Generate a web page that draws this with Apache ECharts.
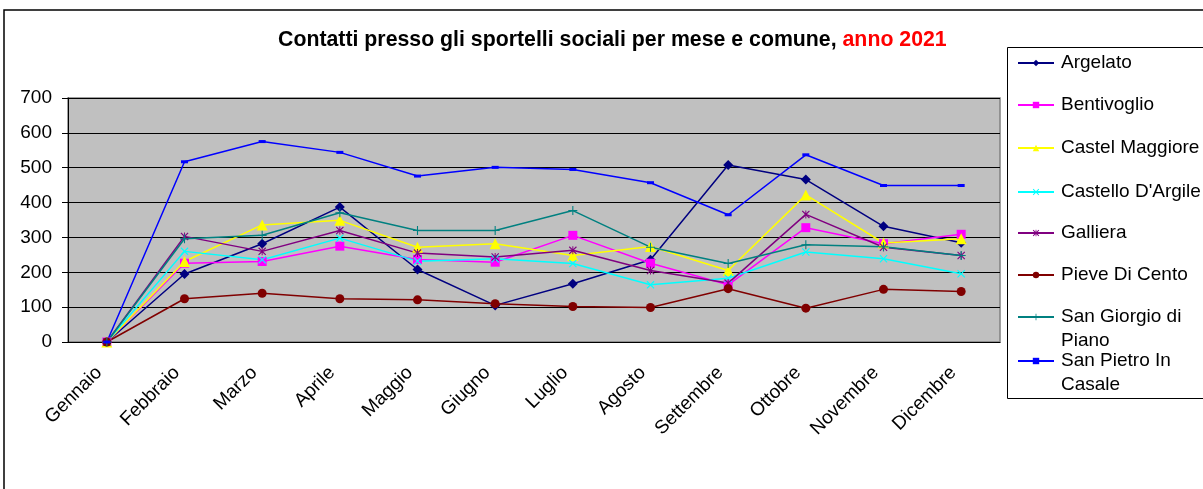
<!DOCTYPE html>
<html>
<head>
<meta charset="utf-8">
<script src="https://cdn.jsdelivr.net/npm/echarts@6/dist/echarts.min.js"></script>
<style>
  html, body { margin: 0; padding: 0; background: #fff; }
  #chart { width: 1203px; height: 489px; }
</style>
</head>
<body>
<div id="chart"></div>
<script>
// mesi
const months = ['Gennaio', 'Febbraio', 'Marzo', 'Aprile', 'Maggio', 'Giugno', 'Luglio', 'Agosto', 'Settembre', 'Ottobre', 'Novembre', 'Dicembre']
const yTicks = [0, 100, 200, 300, 400, 500, 600, 700]

// contatti per comune
const argelato = [0, 195, 282, 387, 208, 105, 167, 236, 508, 466, 332, 285]
const bentivoglio = [0, 226, 231, 275, 237, 229, 306, 226, 164, 328, 282, 309]
const castelMaggiore = [0, 231, 336, 349, 272, 282, 248, 274, 205, 422, 284, 296]
const castelloArgile = [0, 260, 236, 298, 232, 239, 225, 164, 183, 258, 239, 196]
const galliera = [0, 303, 260, 320, 255, 244, 263, 205, 169, 366, 272, 248]
const pieveDiCento = [0, 124, 140, 124, 121, 110, 102, 99, 153, 97, 151, 145]
const sanGiorgio = [0, 296, 306, 371, 320, 320, 377, 272, 225, 279, 273, 248]
const sanPietro = [0, 517, 575, 544, 476, 501, 495, 457, 365, 537, 449, 449]

// simboli disegnati a mano (x, asterisco, croce, trattino)
const crossX = 'path://M0,1 L1,0 L5,4 L9,0 L10,1 L6,5 L10,9 L9,10 L5,6 L1,10 L0,9 L4,5 Z'
const star = 'path://M0,1 L1,0 L5,4 L9,0 L10,1 L6,5 L10,9 L9,10 L5,6 L1,10 L0,9 L4,5 Z M4.4,0 L5.6,0 L5.6,10 L4.4,10 Z'
const plus = 'path://M4.4,0 L5.6,0 L5.6,4.4 L10,4.4 L10,5.6 L5.6,5.6 L5.6,10 L4.4,10 L4.4,5.6 L0,5.6 L0,4.4 L4.4,4.4 Z'
const dash = 'path://M0,0 L10,0 L10,4 L0,4 Z'

const seriesDef = [
  { name: 'Argelato', data: argelato, color: '#000080', symbol: 'diamond', size: 10 },
  { name: 'Bentivoglio', data: bentivoglio, color: '#FF00FF', symbol: 'rect', size: 9 },
  { name: 'Castel Maggiore', data: castelMaggiore, color: '#FFFF00', symbol: 'triangle', size: 11 },
  { name: "Castello D'Argile", data: castelloArgile, color: '#00FFFF', symbol: crossX, size: 8 },
  { name: 'Galliera', data: galliera, color: '#800080', symbol: star, size: 8 },
  { name: 'Pieve Di Cento', data: pieveDiCento, color: '#800000', symbol: 'circle', size: 9 },
  { name: 'San Giorgio di\nPiano', data: sanGiorgio, color: '#008080', symbol: plus, size: 9 },
  { name: 'San Pietro In\nCasale', data: sanPietro, color: '#0000FF', symbol: dash, size: [7, 3] }
]

const legendTops = [51, 93, 136, 180, 221, 263, 281, 325]
const fontFam = '"Liberation Sans", Arial, sans-serif'
const LH = 24

const chart = echarts.init(document.getElementById('chart'))
chart.setOption({
  backgroundColor: '#fff',
  animation: false,
  title: {
    text: '{a|Contatti presso gli sportelli sociali per mese e comune, }{b|anno 2021}',
    left: 273,
    top: 25,
    textStyle: {
      rich: {
        a: { fontFamily: fontFam, fontSize: 21.3, fontWeight: 'bold', color: '#000' },
        b: { fontFamily: fontFam, fontSize: 21.3, fontWeight: 'bold', color: '#FF0000' }
      }
    }
  },
  graphic: [
    { type: 'rect', shape: { x: 4, y: 10, width: 1300, height: 600 }, style: { fill: 'none', stroke: '#000', lineWidth: 1.5 }, z: -1 },
    { type: 'rect', shape: { x: 1007.5, y: 47.5, width: 300, height: 351 }, style: { fill: '#fff', stroke: '#000', lineWidth: 1 }, z: 0 }
  ],
  legend: seriesDef.map((s, i) => {
    const twoLines = s.name.indexOf('\n') >= 0
    return {
      data: [s.name],
      left: 1017,
      top: legendTops[i],
      orient: 'vertical',
      itemWidth: 36,
      itemHeight: 8,
      padding: 0,
      z: 5,
      // riga vuota sopra: la prima riga resta allineata all'icona
      formatter: twoLines ? n => ' \n' + n : n => n,
      textStyle: {
        fontFamily: fontFam,
        fontSize: 19,
        color: '#000',
        lineHeight: LH,
        padding: [0, 0, 0, 2]
      }
    }
  }),
  grid: {
    left: 68,
    top: 98,
    right: 203,
    bottom: 147,
    show: true,
    backgroundColor: '#C0C0C0',
    borderColor: '#808080',
    borderWidth: 1.5
  },
  xAxis: {
    type: 'category',
    data: months,
    boundaryGap: true,
    axisLine: { lineStyle: { color: '#000', width: 1 } },
    axisTick: { alignWithLabel: false, length: 5, lineStyle: { color: '#000' } },
    axisLabel: { rotate: 45, margin: 20, padding: [0, 11, 0, 0], fontFamily: fontFam, fontSize: 19, color: '#000', interval: 0 }
  },
  yAxis: {
    type: 'value',
    min: yTicks[0],
    max: yTicks[yTicks.length - 1],
    interval: 100,
    axisLine: { show: true, lineStyle: { color: '#000', width: 1 } },
    axisTick: { show: true, length: 6, lineStyle: { color: '#000' } },
    axisLabel: { margin: 16, fontFamily: fontFam, fontSize: 19, color: '#000' },
    splitLine: { lineStyle: { color: '#000', width: 1 } }
  },
  series: seriesDef.map(s => ({
    name: s.name,
    type: 'line',
    data: s.data,
    symbol: s.symbol,
    symbolSize: s.size,
    showAllSymbol: true,
    color: s.color,
    lineStyle: { color: s.color, width: 1.5 },
    itemStyle: { color: s.color, borderWidth: 0 }
  }))
})
</script>
</body>
</html>
